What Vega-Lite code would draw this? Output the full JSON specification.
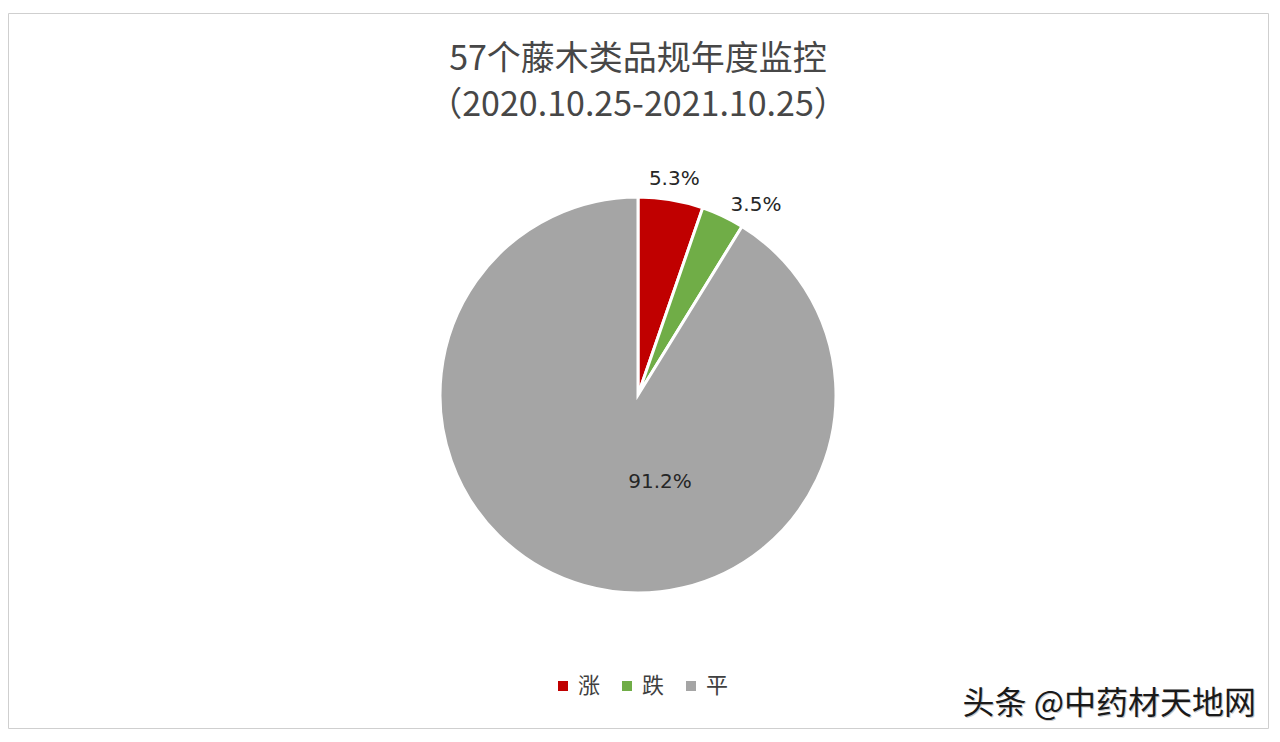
{
  "$schema": "https://vega.github.io/schema/vega-lite/v6.json",
  "width": 1280,
  "height": 742,
  "autosize": {"type": "fit", "contains": "padding"},
  "padding": {"left": 8, "top": 13, "right": 12, "bottom": 14},
  "background": "white",
  "view": {"stroke": "#cfcfcf", "strokeWidth": 1},
  "title": {
    "text": ["57个藤木类品规年度监控", "（2020.10.25-2021.10.25）"],
    "anchor": "middle",
    "orient": "top",
    "offset": -110,
    "fontSize": 34,
    "font": "Noto Sans CJK SC",
    "fontWeight": "normal",
    "color": "#474747",
    "lineHeight": 46
  },
  "data": {
    "values": [
      {"cat": "涨", "pct": 5.3, "rank": 1, "label": "5.3%"},
      {"cat": "跌", "pct": 3.5, "rank": 2, "label": "3.5%"},
      {"cat": "平", "pct": 91.2, "rank": 3, "label": "91.2%"}
    ]
  },
  "layer": [
    {
      "mark": {"type": "arc", "outerRadius": 198, "stroke": "white", "strokeWidth": 3, "y": {"expr": "height/2+24.5"}},
      "encoding": {
        "theta": {"field": "pct", "type": "quantitative", "stack": true},
        "order": {"field": "rank", "type": "quantitative"},
        "color": {
          "field": "cat",
          "type": "nominal",
          "scale": {"domain": ["涨", "跌", "平"], "range": ["#C00000", "#70AD47", "#A5A5A5"]},
          "legend": {
            "title": null,
            "orient": "none",
            "legendX": 544,
            "legendY": 662,
            "direction": "horizontal",
            "symbolType": "square",
            "symbolSize": 100,
            "symbolStrokeWidth": 0,
            "labelFont": "Noto Sans CJK SC",
            "labelFontSize": 22,
            "labelColor": "#404040",
            "labelOffset": 4,
            "columnPadding": 15
          }
        }
      }
    },
    {
      "mark": {"type": "text", "radius": 219, "font": "DejaVu Sans", "fontSize": 20, "color": "#262626", "y": {"expr": "height/2+24.5"}},
      "encoding": {
        "theta": {"field": "pct", "type": "quantitative", "stack": true},
        "order": {"field": "rank", "type": "quantitative"},
        "text": {"condition": {"test": "datum.cat === '涨'", "field": "label"}, "value": ""}
      }
    },
    {
      "mark": {"type": "text", "radius": 224, "dx": 22, "dy": 12, "font": "DejaVu Sans", "fontSize": 20, "color": "#262626", "y": {"expr": "height/2+24.5"}},
      "encoding": {
        "theta": {"field": "pct", "type": "quantitative", "stack": true},
        "order": {"field": "rank", "type": "quantitative"},
        "text": {"condition": {"test": "datum.cat === '跌'", "field": "label"}, "value": ""}
      }
    },
    {
      "mark": {"type": "text", "radius": 95, "dx": 48, "dy": -4, "font": "DejaVu Sans", "fontSize": 20, "color": "#262626", "y": {"expr": "height/2+24.5"}},
      "encoding": {
        "theta": {"field": "pct", "type": "quantitative", "stack": true},
        "order": {"field": "rank", "type": "quantitative"},
        "text": {"condition": {"test": "datum.cat === '平'", "field": "label"}, "value": ""}
      }
    },
    {
      "data": {"values": [{"t": "头条 @中药材天地网"}]},
      "mark": {"type": "text", "x": {"expr": "width-11"}, "y": {"expr": "height-23"}, "align": "right", "baseline": "middle", "font": "Noto Sans CJK SC", "fontSize": 32, "color": "#c8c8c8"},
      "encoding": {"text": {"field": "t", "type": "nominal"}}
    },
    {
      "data": {"values": [{"t": "头条 @中药材天地网"}]},
      "mark": {"type": "text", "x": {"expr": "width-12"}, "y": {"expr": "height-24"}, "align": "right", "baseline": "middle", "font": "Noto Sans CJK SC", "fontSize": 32, "color": "#1a1a1a"},
      "encoding": {"text": {"field": "t", "type": "nominal"}}
    }
  ]
}
